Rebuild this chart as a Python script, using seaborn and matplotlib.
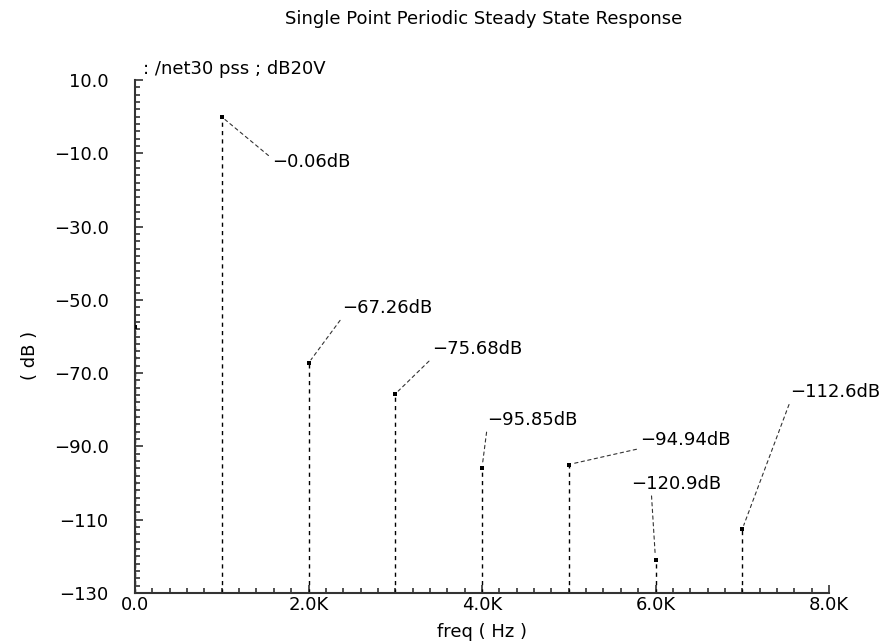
import numpy as np
import pandas as pd
import seaborn as sns
import matplotlib.pyplot as plt
from matplotlib.ticker import MultipleLocator, FuncFormatter

# harmonic spectrum of /net30 (pss), in dB20V
freqs = [0, 1000, 2000, 3000, 4000, 5000, 6000, 7000]
levels = [-57.4, -0.06, -67.26, -75.68, -95.85, -94.94, -120.9, -112.6]

# which points carry a marker label, and where the label sits (pixels from point, y up)
labelled = [False, True, True, True, True, True, True, True]
label_offsets = [None, (50, -45), (34, 55), (37, 45), (5, 48), (71, 25), (-24, 76), (48, 137)]
label_relpos = [None, (0, 0.7), (0, 0), (0, 0), (0, 0), (0, 0), (0.22, 0), (0, 0)]

y_ticks = [10, -10, -30, -50, -70, -90, -110, -130]
x_ticks = [0, 2000, 4000, 6000, 8000]

MINUS = '\u2212'

sns.set_style('ticks')
plt.rcParams['font.family'] = ['DejaVu Sans']
plt.rcParams['text.color'] = 'black'
plt.rcParams['xtick.labelcolor'] = 'black'
plt.rcParams['ytick.labelcolor'] = 'black'

fig = plt.figure(figsize=(8.94, 6.43), dpi=100)
ax = fig.add_axes([135 / 894, 1 - 593 / 643, (829 - 135) / 894, (593 - 80) / 643])

df = pd.DataFrame({'freq': freqs, 'dB': levels})

# dashed stems down to the floor of the plot
ax.vlines(df.freq, -130, df.dB, colors='black', linestyles=(0, (3, 3)), linewidth=1, zorder=2)
sns.scatterplot(data=df, x='freq', y='dB', marker='s', s=12, color='black',
                linewidth=0, ax=ax, zorder=3, legend=False)

ax.set_xlim(0, 8000)
ax.set_ylim(-130, 10)
ax.set_xticks(x_ticks)
ax.set_yticks(y_ticks)
ax.xaxis.set_minor_locator(MultipleLocator(200))
ax.yaxis.set_minor_locator(MultipleLocator(2))


def fmt_y(v, pos):
    s = f'{v:.1f}' if abs(v) < 100 else f'{v:.0f}'
    return s.replace('-', MINUS)


def fmt_x(v, pos):
    return '0.0' if v == 0 else f'{v / 1000:.1f}K'


ax.yaxis.set_major_formatter(FuncFormatter(fmt_y))
ax.xaxis.set_major_formatter(FuncFormatter(fmt_x))
ax.tick_params(axis='both', which='major', direction='in', length=6, width=1.2,
               color='#333333', labelsize=13)
ax.tick_params(axis='both', which='minor', direction='in', length=3.5, width=1.2,
               color='#333333')
ax.tick_params(axis='y', which='major', pad=19)
ax.tick_params(axis='x', which='major', pad=2)
ax.set_xlabel('')
ax.set_ylabel('')

sns.despine(ax=ax)
for side in ['left', 'bottom']:
    ax.spines[side].set_color('#333333')
    ax.spines[side].set_linewidth(1.5)

# marker labels with dashed leader lines
for f, v, show, off, rp in zip(freqs, levels, labelled, label_offsets, label_relpos):
    if not show:
        continue
    txt = f'{v:.4g}dB'.replace('-', MINUS)
    ax.annotate(txt, xy=(f, v), xytext=off,
                textcoords='offset pixels', ha='left', va='center', fontsize=13,
                arrowprops=dict(arrowstyle='-', linestyle=(0, (3, 3)), linewidth=0.8,
                                color='#333333', relpos=rp, shrinkA=0, shrinkB=3))

fig.text(484 / 894, 1 - 19 / 643, 'Single Point Periodic Steady State Response',
         ha='center', va='center', fontsize=13)
fig.text(143 / 894, 1 - 69 / 643, ': /net30 pss ; dB20V', ha='left', va='center', fontsize=13)
fig.text(30 / 894, 1 - 355 / 643, '( dB )', rotation=90, ha='center', va='center', fontsize=13)
fig.text(482 / 894, 1 - 632 / 643, 'freq ( Hz )', ha='center', va='center', fontsize=13)

fig.savefig('out.png', dpi=100)
